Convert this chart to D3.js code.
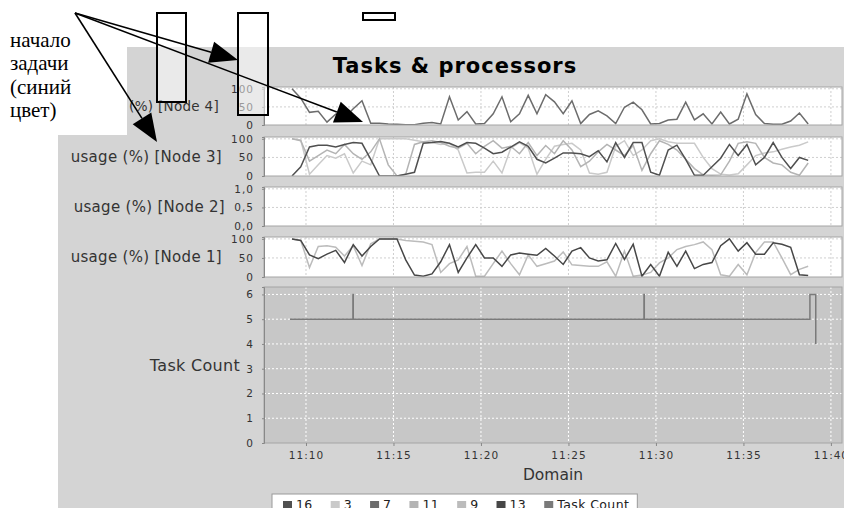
<!DOCTYPE html>
<html>
<head>
<meta charset="utf-8">
<script src="https://cdn.jsdelivr.net/npm/d3@7"></script>
<style>
body { margin: 0; background: #fff; }
svg { display: block; font-family: "DejaVu Sans", sans-serif; }
</style>
</head>
<body>
<script>
// sample time stamps (one every 30 s)
var times = ["11:09:12","11:09:42","11:10:12","11:10:42","11:11:12","11:11:42","11:12:12","11:12:42","11:13:12","11:13:42",
             "11:14:12","11:14:42","11:15:12","11:15:42","11:16:12","11:16:42","11:17:12","11:17:42","11:18:12","11:18:42",
             "11:19:12","11:19:42","11:20:12","11:20:42","11:21:12","11:21:42","11:22:12","11:22:42","11:23:12","11:23:42",
             "11:24:12","11:24:42","11:25:12","11:25:42","11:26:12","11:26:42","11:27:12","11:27:42","11:28:12","11:28:42",
             "11:29:12","11:29:42","11:30:12","11:30:42","11:31:12","11:31:42","11:32:12","11:32:42","11:33:12","11:33:42",
             "11:34:12","11:34:42","11:35:12","11:35:42","11:36:12","11:36:42","11:37:12","11:37:42","11:38:12","11:38:42"]

// usage (%) per task on each node
var node4_7  = [100,74,35,38,8,30,20,45,67,5, 5,3,2,1,1,5,7,3,78,14, 37,3,4,31,78,9,31,82,31,84,
                64,31,67,4,29,39,25,4,49,63, 42,3,4,14,16,63,14,31,3,36, 3,16,86,29,4,2,2,11,33,3]
var node3_16 = [0,25,78,83,83,78,85,90,88,45, 0,0,0,5,10,88,90,93,88,78, 90,88,75,60,64,78,92,80,45,35,
                48,62,62,60,52,68,38,90,50,90, 90,10,2,70,83,45,2,2,25,48, 85,55,85,30,50,90,50,20,50,42]
var node3_3  = [100,97,5,30,55,48,60,8,40,30, 100,100,100,100,96,92,90,85,88,70, 8,10,10,40,8,75,90,75,5,45,
                80,85,88,70,8,5,10,80,95,55, 70,95,100,92,88,88,88,50,20,5, 3,6,30,55,62,65,72,78,83,92]
var node3_11 = [100,95,40,55,70,60,85,60,45,65, 100,30,0,5,85,92,95,90,80,75, 88,60,80,95,75,80,60,90,55,82,
                60,95,70,25,40,65,85,70,55,82, 15,60,95,85,70,45,20,3,2,3, 40,88,92,88,50,35,30,10,2,35]
var node1_13 = [100,96,58,48,60,70,38,85,55,80, 100,100,100,45,5,2,8,40,85,12, 50,85,50,50,28,58,63,60,57,75,
                55,33,68,77,50,42,45,88,46,86, 2,33,2,65,28,68,22,33,38,82, 100,68,90,60,60,90,86,78,6,4]
var node1_9  = [100,96,25,80,82,78,55,82,30,87, 100,100,100,96,94,92,85,12,35,45, 80,2,2,35,68,35,6,58,28,35,
                42,66,32,30,28,28,40,2,68,2, 5,12,37,50,72,80,85,92,72,6, 2,33,6,64,92,92,50,6,20,28]

// number of running tasks (step series)
var taskTimes  = ["11:09:05","11:12:41","11:12:42","11:29:19","11:29:20","11:38:48","11:39:08"]
var taskValues = [5,6,5,6,5,6,4]

// legend
var legendNames  = ["16","3","7","11","9","13","Task Count"]
var legendColors = ["#505050","#cacaca","#6c6c6c","#b4b4b4","#bcbcbc","#474747","#7a7a7a"]

// tick labels
var usageTicks = [0, 50, 100]
var node2Ticks = [0, 0.5, 1]
var taskTicks  = [0, 1, 2, 3, 4, 5, 6]
var xTicks     = ["11:10","11:15","11:20","11:25","11:30","11:35","11:40"]

// annotation text
var noteLines = ["начало", "задачи", "(синий", "цвет)"]

var w = 844
var h = 508

var parse = d3.timeParse("%H:%M:%S")
var parseHM = d3.timeParse("%H:%M")
var color = d3.scaleOrdinal().domain(legendNames).range(legendColors)

var svg = d3.select("body")
            .append("svg")
            .attr("width", w)
            .attr("height", h)

// chart background
svg.append("rect")
   .attr("x", 58).attr("y", 47)
   .attr("width", w - 58).attr("height", h - 47)
   .attr("fill", "#d4d4d4")

svg.append("text")
   .attr("x", 455).attr("y", 73)
   .attr("text-anchor", "middle")
   .style("font-size", "21px")
   .style("font-weight", "bold")
   .style("letter-spacing", "1px")
   .text("Tasks & processors")

var plotLeft = 264, plotRight = 842
var xScale = d3.scaleTime()
               .domain([parse("11:07:36"), parse("11:40:38")])
               .range([plotLeft, plotRight])
var xTickDates = xTicks.map(function(t) { return parseHM(t) })

var commaFmt = function(d) { return d3.format(".1f")(d).replace(".", ",") }

var panels = [
  {label: "(%) [Node 4]", labelX: 219, size: 13.5, top: 87, bottom: 125, max: 105, ticks: usageTicks, fmt: String,
   series: [{name: "7", values: node4_7}]},
  {label: "usage (%) [Node 3]", labelX: 222, size: 15, top: 137, bottom: 176, max: 105, ticks: usageTicks, fmt: String,
   series: [{name: "3", values: node3_3}, {name: "11", values: node3_11}, {name: "16", values: node3_16}]},
  {label: "usage (%) [Node 2]", labelX: 225, size: 15, top: 187, bottom: 226, max: 1.05, ticks: node2Ticks, fmt: commaFmt,
   series: []},
  {label: "usage (%) [Node 1]", labelX: 222, size: 15, top: 237, bottom: 277, max: 105, ticks: usageTicks, fmt: String,
   series: [{name: "9", values: node1_9}, {name: "13", values: node1_13}]},
  {label: "Task Count", labelX: 240, size: 16, top: 287, bottom: 443, max: 6.3, ticks: taskTicks, fmt: String,
   series: [], task: true}
]

panels.forEach(function(p, k) {
  var yScale = d3.scaleLinear().domain([0, p.max]).range([p.bottom, p.top])
  var g = svg.append("g")
  var gridColor = p.task ? "#ffffff" : "#cfcfcf"

  g.append("rect")
   .attr("x", plotLeft).attr("y", p.top)
   .attr("width", plotRight - plotLeft).attr("height", p.bottom - p.top)
   .attr("fill", p.task ? "#c7c7c7" : "#ffffff")

  // dashed grid
  g.selectAll(".vg").data(xTickDates).enter().append("line")
   .attr("x1", function(d) { return xScale(d) }).attr("x2", function(d) { return xScale(d) })
   .attr("y1", p.top).attr("y2", p.bottom)
   .attr("stroke", gridColor).attr("stroke-dasharray", "2,2")
  g.selectAll(".hg").data(p.ticks.filter(function(d) { return d > 0 })).enter().append("line")
   .attr("x1", plotLeft).attr("x2", plotRight)
   .attr("y1", function(d) { return yScale(d) }).attr("y2", function(d) { return yScale(d) })
   .attr("stroke", gridColor).attr("stroke-dasharray", "2,2")

  g.append("clipPath").attr("id", "clip" + k)
   .append("rect")
   .attr("x", plotLeft).attr("y", p.top)
   .attr("width", plotRight - plotLeft).attr("height", p.bottom - p.top)

  var line = d3.line()
               .x(function(d, i) { return xScale(parse(times[i])) })
               .y(function(d) { return yScale(d) })

  p.series.forEach(function(s) {
    g.append("path")
     .attr("clip-path", "url(#clip" + k + ")")
     .attr("d", line(s.values))
     .attr("fill", "none")
     .attr("stroke", color(s.name))
     .attr("stroke-width", 1.5)
  })

  if (p.task) {
    var stepLine = d3.line()
                     .curve(d3.curveStepAfter)
                     .x(function(d, i) { return xScale(parse(taskTimes[i])) })
                     .y(function(d) { return yScale(d) })
    g.append("path")
     .attr("d", stepLine(taskValues))
     .attr("fill", "none")
     .attr("stroke", color("Task Count"))
     .attr("stroke-width", 1.5)
  }

  g.append("rect")
   .attr("x", plotLeft).attr("y", p.top)
   .attr("width", plotRight - plotLeft).attr("height", p.bottom - p.top)
   .attr("fill", "none").attr("stroke", "#a4a4a4")

  // y axis
  var yAxis = g.append("g")
               .attr("transform", "translate(" + plotLeft + ",0)")
               .call(d3.axisLeft(yScale).tickValues(p.ticks).tickFormat(p.fmt).tickSize(2).tickPadding(8))
  yAxis.select(".domain").attr("stroke", "#888")
  yAxis.selectAll("line").attr("stroke", "#888")
  yAxis.selectAll("text").style("font-size", "10.5px").style("letter-spacing", "1px")
       .attr("fill", "#333").style("font-family", "DejaVu Sans")

  g.append("text")
   .attr("x", p.labelX).attr("y", (p.top + p.bottom) / 2)
   .attr("dy", "0.35em")
   .attr("text-anchor", "end")
   .attr("fill", "#333")
   .style("font-size", p.size + "px")
   .style("letter-spacing", "0.3px")
   .text(p.label)
})

// x axis
var xAxis = svg.append("g")
               .attr("transform", "translate(0,443)")
               .call(d3.axisBottom(xScale).tickValues(xTickDates)
                       .tickFormat(d3.timeFormat("%H:%M")).tickSize(3).tickPadding(6))
xAxis.select(".domain").remove()
xAxis.selectAll("line").attr("stroke", "#888")
xAxis.selectAll("text").style("font-size", "10.5px").style("letter-spacing", "1px")
     .attr("fill", "#333").style("font-family", "DejaVu Sans")

svg.append("text")
   .attr("x", (plotLeft + plotRight) / 2).attr("y", 480)
   .attr("text-anchor", "middle")
   .attr("fill", "#333")
   .style("font-size", "15.5px")
   .text("Domain")

// legend
var legend = svg.append("g")
var legendBox = legend.append("rect")
                      .attr("y", 494).attr("height", 20)
                      .attr("fill", "#ffffff").attr("stroke", "#999")
var lx = 283
legendNames.forEach(function(n) {
  legend.append("rect")
        .attr("x", lx).attr("y", 501).attr("width", 9).attr("height", 9)
        .attr("fill", color(n))
  var t = legend.append("text")
                .attr("x", lx + 13).attr("y", 509)
                .attr("fill", "#222")
                .style("font-size", "12.5px")
                .style("letter-spacing", "0.4px")
                .text(n)
  lx = lx + 13 + t.node().getComputedTextLength() + 18
})
legendBox.attr("x", 272).attr("width", lx - 18 + 8 - 272)

// annotation overlay
var note = svg.append("g")
note.append("rect")
    .attr("x", 0).attr("y", 0).attr("width", 127).attr("height", 135)
    .attr("fill", "#ffffff")

note.selectAll(".note").data(noteLines).enter().append("text")
    .attr("x", 10)
    .attr("y", function(d, i) { return 47 + i * 23.3 })
    .style("font-family", "'Liberation Serif', serif")
    .style("font-size", "21px")
    .text(function(d) { return d })

var boxes = [[157, 13, 29, 89], [238, 13, 30, 102], [363, 13, 32, 7]]
note.selectAll(".box").data(boxes).enter().append("rect")
    .attr("x", function(d) { return d[0] }).attr("y", function(d) { return d[1] })
    .attr("width", function(d) { return d[2] }).attr("height", function(d) { return d[3] })
    .attr("fill", "#ffffff").attr("fill-opacity", function(d, i) { return i == 2 ? 1 : 0.5 })
    .attr("stroke", "#000").attr("stroke-width", 2)

var apex = [75, 13]
var tips = [[238, 60], [363, 122], [157, 142]]
tips.forEach(function(t) {
  var dx = t[0] - apex[0], dy = t[1] - apex[1]
  var len = Math.sqrt(dx * dx + dy * dy)
  var ux = dx / len, uy = dy / len
  var bx = t[0] - 28 * ux, by = t[1] - 28 * uy
  note.append("line")
      .attr("x1", apex[0]).attr("y1", apex[1]).attr("x2", bx).attr("y2", by)
      .attr("stroke", "#000").attr("stroke-width", 1.6)
  note.append("polygon")
      .attr("points", [[t[0], t[1]], [bx - 11 * uy, by + 11 * ux], [bx + 11 * uy, by - 11 * ux]].join(" "))
      .attr("fill", "#000")
})
</script>
</body>
</html>
